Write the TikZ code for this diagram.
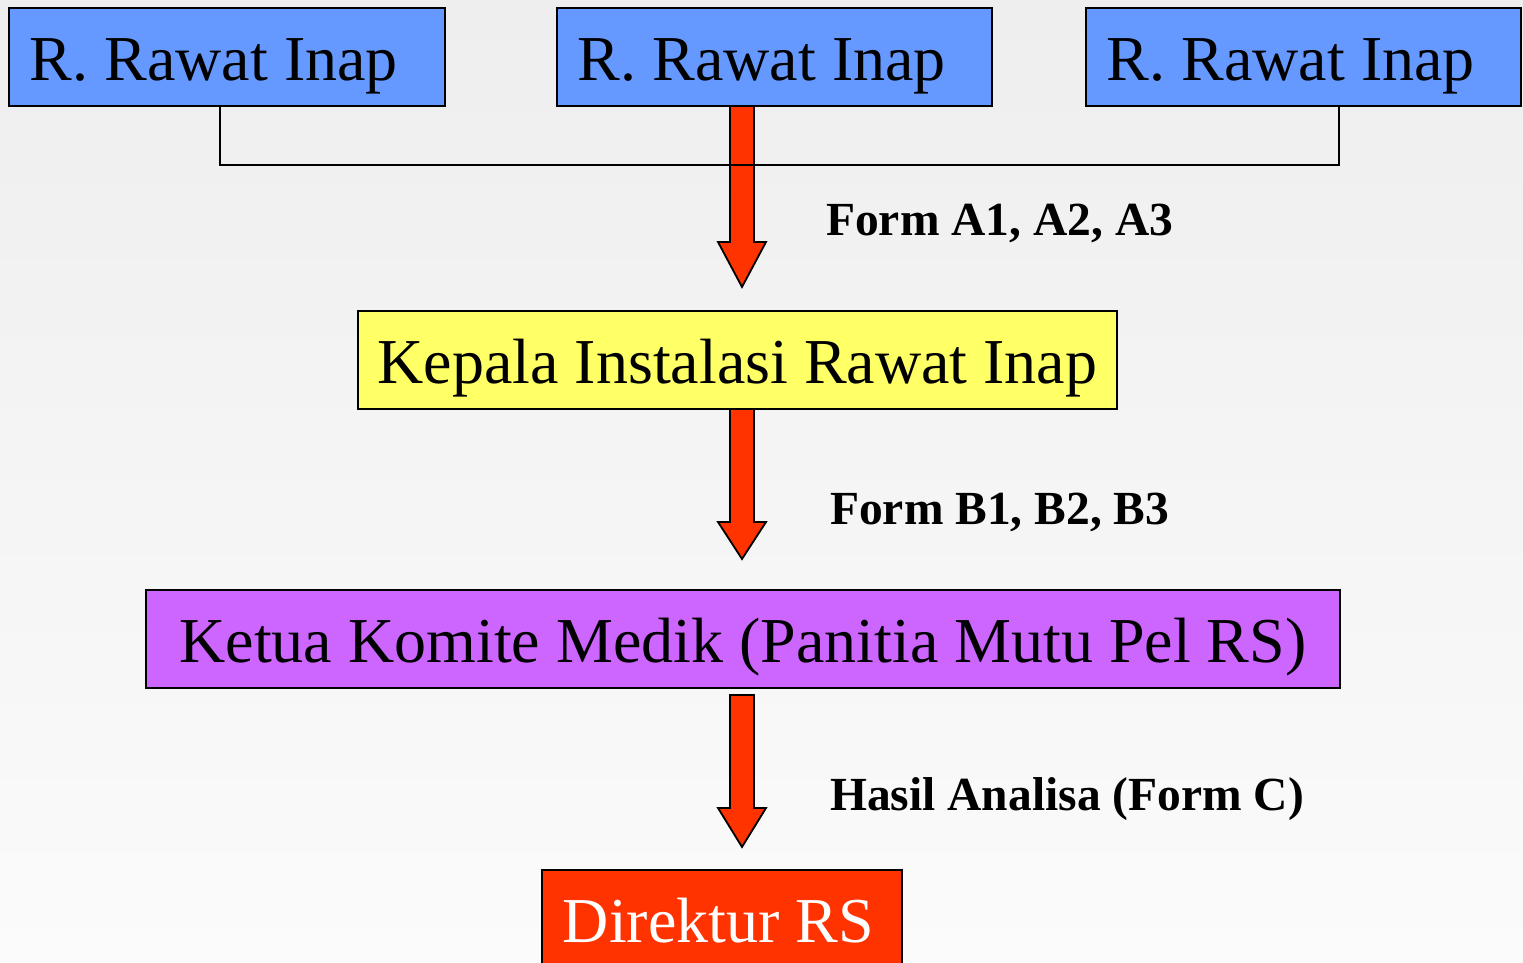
\documentclass[tikz,border=0pt]{standalone}
\usepackage{fontspec}
\setmainfont{Liberation Serif}
\usetikzlibrary{calc}
\definecolor{bgtop}{RGB}{238,238,238}
\definecolor{bgbot}{RGB}{251,251,251}
\definecolor{boxblue}{HTML}{6699FF}
\definecolor{boxyellow}{HTML}{FFFF66}
\definecolor{boxpurple}{HTML}{CC66FF}
\definecolor{boxred}{HTML}{FF3300}
\tikzset{
  box/.style={draw=black, line width=1.8pt, minimum height=98pt, inner ysep=0pt,
    text height=52pt, text depth=4pt, font=\fontsize{64}{70}\selectfont},
  leftbox/.style={box, inner xsep=21pt},
  flowlabel/.style={anchor=base west, inner sep=0pt, font=\fontsize{47.5}{52}\selectfont\bfseries},
  bigarrow/.style={draw=black, line width=1.8pt, fill=boxred, line join=miter},
  joinline/.style={draw=black, line width=1.8pt}
}
\newcommand\drawbigarrow[3]{%
  \draw[bigarrow] ($(#1)+(-12,0)$) -- ($(#2)+(-12,0)$) -- ($(#2)+(-24,0)$) -- (#3)
    -- ($(#2)+(24,0)$) -- ($(#2)+(12,0)$) -- ($(#1)+(12,0)$) -- cycle;}
\begin{document}
\begin{tikzpicture}[x=1pt, y=-1pt]
\clip (0,0) rectangle (1523,963);
\shade[top color=bgtop, bottom color=bgbot] (0,0) rectangle (1523,963);

% arrow coordinates
\coordinate (a1s) at (742,105);
\coordinate (a1h) at (742,242);
\coordinate (a1t) at (742,287);
\coordinate (a2s) at (742,407);
\coordinate (a2h) at (742,522);
\coordinate (a2t) at (742,559);
\coordinate (a3s) at (742,695);
\coordinate (a3h) at (742,808);
\coordinate (a3t) at (742,847);

\drawbigarrow{a1s}{a1h}{a1t}
\drawbigarrow{a2s}{a2h}{a2t}
\drawbigarrow{a3s}{a3h}{a3t}

% top boxes
\node[leftbox, fill=boxblue, anchor=north west] (r1) at (8,7) {\makebox[394pt][l]{R. Rawat Inap}};
\node[leftbox, fill=boxblue, anchor=north west] (r2) at (556,7) {\makebox[393pt][l]{R. Rawat Inap}};
\node[leftbox, fill=boxblue, anchor=north west] (r3) at (1085,7) {\makebox[393pt][l]{R. Rawat Inap}};

% joining line
\coordinate (j1) at (220,165);
\coordinate (j3) at (1339,165);
\draw[joinline] (r1.south -| j1) -- (j1) -- (j3) -- (r3.south -| j3);

\node[box, fill=boxyellow, minimum width=759pt, anchor=north west] (kepala) at (357,310) {Kepala Instalasi Rawat Inap};
\node[box, fill=boxpurple, minimum width=1194pt, anchor=north west] (ketua) at (145,589) {Ketua Komite Medik (Panitia Mutu Pel RS)};
\node[leftbox, fill=boxred, text=white, anchor=north west] (direktur) at (541,869) {\makebox[318pt][l]{Direktur RS}};

\node[flowlabel] (la) at (826,235) {Form A1, A2, A3};
\node[flowlabel] (lb) at (830,524) {Form B1, B2, B3};
\node[flowlabel] (lc) at (830,810) {Hasil Analisa (Form C)};
\end{tikzpicture}
\end{document}
